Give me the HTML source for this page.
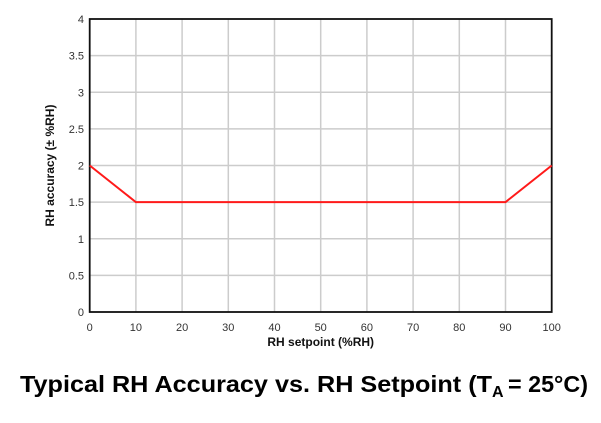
<!DOCTYPE html>
<html><head><meta charset="utf-8"><style>body{margin:0;background:#fff}</style></head><body>
<svg width="601" height="418" xmlns="http://www.w3.org/2000/svg" font-family="Liberation Sans, sans-serif">
<g stroke="#cccccc" stroke-width="1.5">
<line x1="135.9" y1="19" x2="135.9" y2="312"/><line x1="182.1" y1="19" x2="182.1" y2="312"/><line x1="228.3" y1="19" x2="228.3" y2="312"/><line x1="274.5" y1="19" x2="274.5" y2="312"/><line x1="320.7" y1="19" x2="320.7" y2="312"/><line x1="366.9" y1="19" x2="366.9" y2="312"/><line x1="413.1" y1="19" x2="413.1" y2="312"/><line x1="459.3" y1="19" x2="459.3" y2="312"/><line x1="505.5" y1="19" x2="505.5" y2="312"/>
<line x1="90" y1="55.6" x2="552" y2="55.6"/><line x1="90" y1="92.3" x2="552" y2="92.3"/><line x1="90" y1="128.9" x2="552" y2="128.9"/><line x1="90" y1="165.5" x2="552" y2="165.5"/><line x1="90" y1="202.1" x2="552" y2="202.1"/><line x1="90" y1="238.8" x2="552" y2="238.8"/><line x1="90" y1="275.4" x2="552" y2="275.4"/>
</g>
<rect x="89.7" y="19" width="462" height="293" fill="none" stroke="#111" stroke-width="1.8"/>
<polyline points="89.7,165.5 135.9,202.1 505.5,202.1 551.7,165.5" fill="none" stroke="#ff1a1a" stroke-width="2"/>
<g font-size="11" fill="#333" text-anchor="end">
<text x="84" y="23">4</text><text x="84" y="59.6">3.5</text><text x="84" y="96.3">3</text><text x="84" y="132.9">2.5</text><text x="84" y="169.5">2</text><text x="84" y="206.1">1.5</text><text x="84" y="242.8">1</text><text x="84" y="279.4">0.5</text><text x="84" y="316">0</text>
</g>
<g font-size="11" fill="#333" text-anchor="middle">
<text x="89.7" y="331">0</text><text x="135.9" y="331">10</text><text x="182.1" y="331">20</text><text x="228.3" y="331">30</text><text x="274.5" y="331">40</text><text x="320.7" y="331">50</text><text x="366.9" y="331">60</text><text x="413.1" y="331">70</text><text x="459.3" y="331">80</text><text x="505.5" y="331">90</text><text x="551.7" y="331">100</text>
</g>
<text x="320.7" y="346" font-size="12" font-weight="bold" text-anchor="middle" fill="#111">RH setpoint (%RH)</text>
<text transform="translate(54,165.5) rotate(-90)" font-size="12" font-weight="bold" text-anchor="middle" fill="#111">RH accuracy (± %RH)</text>
<text x="20" y="392" font-size="23" font-weight="bold" fill="#000" textLength="472" lengthAdjust="spacingAndGlyphs">Typical RH Accuracy vs. RH Setpoint (T</text>
<text x="492" y="397" font-size="16" font-weight="bold" fill="#000">A</text>
<text x="508" y="392" font-size="23" font-weight="bold" fill="#000" textLength="80" lengthAdjust="spacingAndGlyphs">= 25°C)</text>
</svg>
</body></html>
